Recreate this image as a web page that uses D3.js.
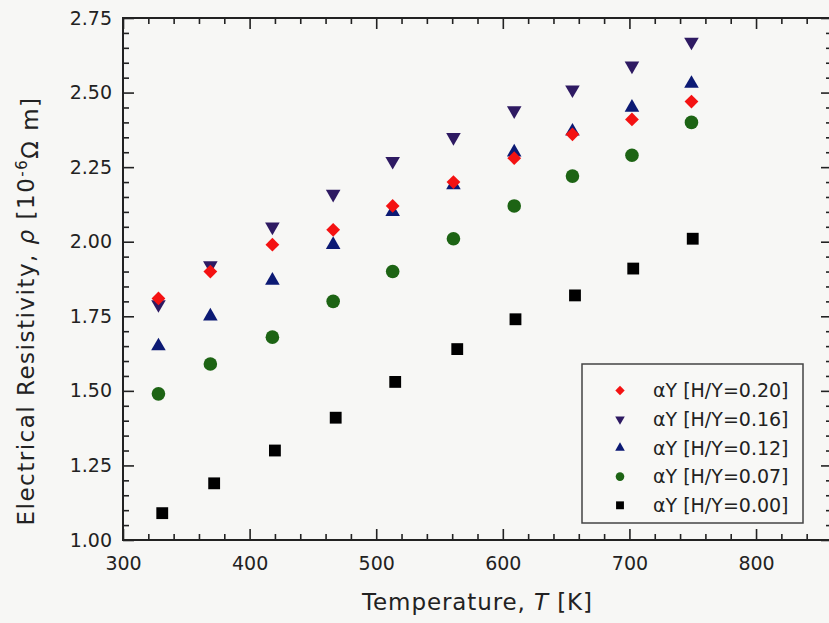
<!DOCTYPE html>
<html>
<head>
<meta charset="utf-8">
<script src="https://cdn.jsdelivr.net/npm/d3@7"></script>
<style>
  html, body { margin: 0; padding: 0; background: #f7f7f5; }
  svg { display: block; }
  text { font-family: "DejaVu Sans", sans-serif; fill: #222; }
</style>
</head>
<body>
<svg id="chart" width="829" height="623"></svg>
<script>
// ---- data ----
const temps      = [328, 369, 418, 466, 513, 561, 609, 655, 702, 749];
const tempsBlack = [331, 372, 420, 468, 515, 564, 610, 657, 703, 750];
const rhoH020 = [1.81, 1.90, 1.99, 2.04, 2.12, 2.20, 2.28, 2.36, 2.41, 2.47];
const rhoH016 = [1.79, 1.92, 2.05, 2.16, 2.27, 2.35, 2.44, 2.51, 2.59, 2.67];
const rhoH012 = [1.65, 1.75, 1.87, 1.99, 2.10, 2.19, 2.30, 2.37, 2.45, 2.53];
const rhoH007 = [1.49, 1.59, 1.68, 1.80, 1.90, 2.01, 2.12, 2.22, 2.29, 2.40];
const rhoH000 = [1.09, 1.19, 1.30, 1.41, 1.53, 1.64, 1.74, 1.82, 1.91, 2.01];
const seriesLabels = ["αY [H/Y=0.20]", "αY [H/Y=0.16]", "αY [H/Y=0.12]", "αY [H/Y=0.07]", "αY [H/Y=0.00]"];
const xTickLabels = [300, 400, 500, 600, 700, 800];
const yTickLabels = [1.00, 1.25, 1.50, 1.75, 2.00, 2.25, 2.50, 2.75];

// ---- layout ----
const svg = d3.select("#chart");
const L = 123, R = 832, T = 18, B = 540;
const x = d3.scaleLinear().domain([300, 860]).range([L, R]);
const y = d3.scaleLinear().domain([1.0, 2.75]).range([B, T]);

const series = [
  { label: seriesLabels[4], xs: tempsBlack, ys: rhoH000, shape: "square",  color: "#000000", size: 140, lsize: 62 },
  { label: seriesLabels[3], xs: temps,      ys: rhoH007, shape: "circle",  color: "#1d6414", size: 145, lsize: 58 },
  { label: seriesLabels[2], xs: temps,      ys: rhoH012, shape: "triUp",   color: "#0c1a74", size: 92,  lsize: 40 },
  { label: seriesLabels[1], xs: temps,      ys: rhoH016, shape: "triDown", color: "#2e1a62", size: 92,  lsize: 40 },
  { label: seriesLabels[0], xs: temps,      ys: rhoH020, shape: "diamond", color: "#f41212", size: 95,  lsize: 44 }
];

function symPath(shape, size) {
  const type = shape === "square" || shape === "diamond" ? d3.symbolSquare
             : shape === "circle" ? d3.symbolCircle : d3.symbolTriangle;
  return d3.symbol().type(type).size(size)();
}
function symTransform(shape, cx, cy) {
  let t = `translate(${cx},${cy})`;
  if (shape === "diamond") t += " rotate(45)";
  if (shape === "triDown") t += " rotate(180)";
  return t;
}

// ---- axes ----
const majorX = d3.range(300, 861, 100);
const minorX = d3.range(300, 861, 20).filter(v => v % 100 !== 0);
const majorY = yTickLabels;
const minorY = d3.range(1.0, 2.751, 0.05).map(v => +v.toFixed(2)).filter(v => Math.round(v * 100) % 25 !== 0);

const axisColor = "#222";
function styleAxis(g) {
  g.select(".domain").remove();
  g.selectAll(".tick line").attr("stroke", axisColor).attr("stroke-width", 1.6);
  g.selectAll(".tick text").attr("fill", "#222").style("font-size", "19px").style("font-family", '"DejaVu Sans", sans-serif');
}

// bottom
svg.append("g").attr("transform", `translate(0,${B})`)
  .call(d3.axisBottom(x).tickValues(majorX.filter(v => xTickLabels.includes(v))).tickFormat(d3.format("d")).tickSize(-11).tickPadding(17))
  .call(styleAxis);
svg.append("g").attr("transform", `translate(0,${B})`)
  .call(d3.axisBottom(x).tickValues(minorX).tickFormat("").tickSize(-6))
  .call(styleAxis);
// top
svg.append("g").attr("transform", `translate(0,${T})`)
  .call(d3.axisTop(x).tickValues(majorX).tickFormat("").tickSize(-11))
  .call(styleAxis);
svg.append("g").attr("transform", `translate(0,${T})`)
  .call(d3.axisTop(x).tickValues(minorX).tickFormat("").tickSize(-6))
  .call(styleAxis);
// left
svg.append("g").attr("transform", `translate(${L},0)`)
  .call(d3.axisLeft(y).tickValues(majorY).tickFormat(d3.format(".2f")).tickSize(-11).tickPadding(11))
  .call(styleAxis);
svg.append("g").attr("transform", `translate(${L},0)`)
  .call(d3.axisLeft(y).tickValues(minorY).tickFormat("").tickSize(-6))
  .call(styleAxis);
// right
svg.append("g").attr("transform", `translate(${R},0)`)
  .call(d3.axisRight(y).tickValues(majorY).tickFormat("").tickSize(-11))
  .call(styleAxis);
svg.append("g").attr("transform", `translate(${R},0)`)
  .call(d3.axisRight(y).tickValues(minorY).tickFormat("").tickSize(-6))
  .call(styleAxis);

// frame
svg.append("rect").attr("x", L).attr("y", T).attr("width", R - L).attr("height", B - T)
  .attr("fill", "none").attr("stroke", axisColor).attr("stroke-width", 2);

// ---- points ----
series.forEach(s => {
  svg.append("g").selectAll("path").data(s.xs.map((t, i) => [t, s.ys[i]])).join("path")
    .attr("d", symPath(s.shape, s.size))
    .attr("transform", d => symTransform(s.shape, x(d[0]), y(d[1])))
    .attr("fill", s.color);
});

// ---- legend ----
const lg = svg.append("g");
lg.append("rect").attr("x", 582).attr("y", 364).attr("width", 221).attr("height", 159)
  .attr("fill", "#f8f8f6").attr("stroke", "#444").attr("stroke-width", 1.5);
const legendOrder = series.slice().reverse();
legendOrder.forEach((s, i) => {
  const cy = 390.5 + i * 28.7;
  lg.append("path").attr("d", symPath(s.shape, s.lsize))
    .attr("transform", symTransform(s.shape, 620, cy)).attr("fill", s.color);
  lg.append("text").attr("x", 653).attr("y", cy).attr("dy", "0.36em")
    .style("font-size", "19px").text(s.label);
});

// ---- axis titles ----
const xt = svg.append("text").attr("x", (L + R) / 2).attr("y", 610).attr("text-anchor", "middle")
  .style("font-size", "23px").style("letter-spacing", "0.9px");
xt.append("tspan").text("Temperature, ");
xt.append("tspan").style("font-style", "italic").text("T");
xt.append("tspan").text(" [K]");

const yt = svg.append("text").attr("transform", "translate(34,311) rotate(-90)").attr("text-anchor", "middle")
  .style("font-size", "23px").style("letter-spacing", "1.5px");
yt.append("tspan").text("Electrical Resistivity, ");
yt.append("tspan").style("font-style", "italic").text("ρ");
yt.append("tspan").text(" [10");
yt.append("tspan").attr("dy", "-0.5em").style("font-size", "15px").text("-6");
yt.append("tspan").attr("dy", "0.5em").text("Ω m]");
</script>
</body>
</html>
